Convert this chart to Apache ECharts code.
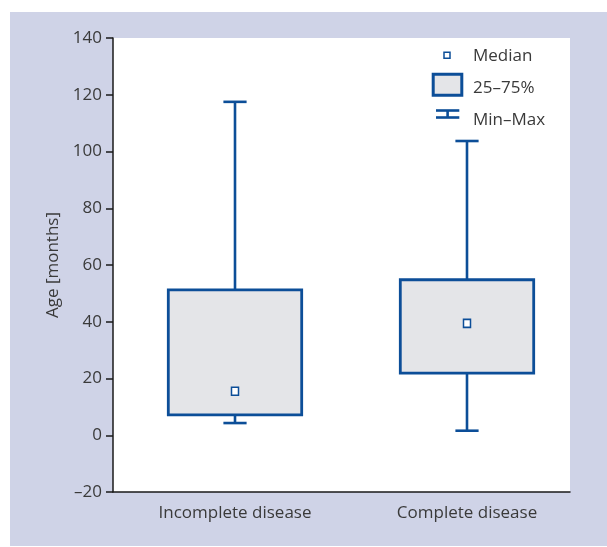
<!DOCTYPE html>
<html><head><meta charset="utf-8">
<script src="https://cdn.jsdelivr.net/npm/echarts@6/dist/echarts.min.js"></script>
<style>html,body{margin:0;padding:0;background:#fff;}#c{position:absolute;left:10px;top:12px;width:597px;height:534px;background:#cfd3e7;}</style>
</head><body><div id="c"></div>
<script>
const categories = ['Incomplete disease', 'Complete disease'];
const minValues = [4.3, 1.6];
const q1Values = [7.2, 21.9];
const medianValues = [15.5, 39.4];
const q3Values = [51.2, 54.8];
const maxValues = [117.5, 103.7];
const yMin = -20, yMax = 140, yStep = 20;
const yAxisName = 'Age [months]';
const legendLabels = ['Median', '25–75%', 'Min–Max'];

const BLUE = '#0c4e98';
const FILL = '#e4e5e8';
const TXT = '#3a3a3a';
const FONT = 'Open Sans';

const chart = echarts.init(document.getElementById('c'), null, {renderer: 'canvas'});

const gridPos = {top: 26, bottom: 54};

chart.setOption({
  animation: false,
  textStyle: {fontFamily: FONT},
  grid: [
    {left: 103, right: 37, top: gridPos.top, bottom: gridPos.bottom, show: true, backgroundColor: '#ffffff', borderWidth: 0},
    {left: 109, right: 24, top: gridPos.top, bottom: gridPos.bottom}
  ],
  xAxis: [
    {gridIndex: 0, type: 'value', min: 0, max: 1, axisLine: {show: true, onZero: false, lineStyle: {color: '#1a1a1a', width: 1.5}},
     axisTick: {show: false}, axisLabel: {show: false}, splitLine: {show: false}},
    {gridIndex: 1, type: 'category', data: categories, axisLine: {show: false}, axisTick: {show: false},
     axisLabel: {color: TXT, fontSize: 17, fontFamily: FONT, margin: 13}}
  ],
  yAxis: [
    {gridIndex: 0, type: 'value', min: yMin, max: yMax, interval: yStep,
     axisLine: {show: true, onZero: false, lineStyle: {color: '#1a1a1a', width: 1.5}},
     axisTick: {show: true, length: 7, lineStyle: {color: '#1a1a1a', width: 1.5}},
     axisLabel: {color: TXT, fontSize: 17, fontFamily: FONT, margin: 11,
       formatter: v => v < 0 ? '\u2013' + Math.abs(v) : String(v)},
     splitLine: {show: false},
     name: yAxisName, nameLocation: 'middle', nameGap: 48, nameRotate: 90,
     nameTextStyle: {color: TXT, fontSize: 17, fontFamily: FONT}},
    {gridIndex: 1, type: 'value', min: yMin, max: yMax, interval: yStep, show: false}
  ],
  series: [
    {
      type: 'custom', xAxisIndex: 1, yAxisIndex: 1, name: legendLabels[2],
      data: categories.map((c, i) => [i, minValues[i], q1Values[i], q3Values[i], maxValues[i]]),
      renderItem(params, api) {
        const i = api.value(0);
        const pMin = api.coord([i, api.value(1)]);
        const pQ1 = api.coord([i, api.value(2)]);
        const pQ3 = api.coord([i, api.value(3)]);
        const pMax = api.coord([i, api.value(4)]);
        const cw = api.size([1, 0])[0] * 0.1;
        const st = {stroke: BLUE, lineWidth: 2.6};
        return {type: 'group', children: [
          {type: 'line', shape: {x1: pMin[0], y1: pMin[1], x2: pQ1[0], y2: pQ1[1]}, style: st},
          {type: 'line', shape: {x1: pQ3[0], y1: pQ3[1], x2: pMax[0], y2: pMax[1]}, style: st},
          {type: 'line', shape: {x1: pMin[0] - cw / 2, y1: pMin[1], x2: pMin[0] + cw / 2, y2: pMin[1]}, style: st},
          {type: 'line', shape: {x1: pMax[0] - cw / 2, y1: pMax[1], x2: pMax[0] + cw / 2, y2: pMax[1]}, style: st}
        ]};
      }
    },
    {
      type: 'custom', xAxisIndex: 1, yAxisIndex: 1, name: legendLabels[1],
      data: categories.map((c, i) => [i, q1Values[i], q3Values[i]]),
      renderItem(params, api) {
        const i = api.value(0);
        const lo = api.coord([i, api.value(1)]);
        const hi = api.coord([i, api.value(2)]);
        const bw = api.size([1, 0])[0] * 0.575;
        return {type: 'rect', shape: {x: lo[0] - bw / 2, y: hi[1], width: bw, height: lo[1] - hi[1]},
                style: {fill: FILL, stroke: BLUE, lineWidth: 2.8}};
      }
    },
    {
      type: 'scatter', xAxisIndex: 1, yAxisIndex: 1, name: legendLabels[0],
      data: categories.map((c, i) => [i, medianValues[i]]),
      symbol: 'rect', symbolSize: [7, 8],
      itemStyle: {color: '#ffffff', borderColor: BLUE, borderWidth: 1.6, opacity: 1},
      z: 5
    }
  ],
  graphic: [
    {type: 'rect', shape: {x: 434, y: 40.3, width: 6, height: 6}, style: {fill: '#fff', stroke: BLUE, lineWidth: 1.5}, z: 10},
    {type: 'text', x: 463, y: 43.7, style: {text: legendLabels[0], fill: TXT, font: '17px "Open Sans"', verticalAlign: 'middle'}, z: 10},
    {type: 'rect', shape: {x: 423.2, y: 62.2, width: 28.6, height: 21}, style: {fill: FILL, stroke: BLUE, lineWidth: 3}, z: 10},
    {type: 'text', x: 463, y: 76.3, style: {text: legendLabels[1], fill: TXT, font: '17px "Open Sans"', verticalAlign: 'middle'}, z: 10},
    {type: 'group', z: 10, children: [
      {type: 'line', shape: {x1: 426, y1: 98.5, x2: 449.3, y2: 98.5}, style: {stroke: BLUE, lineWidth: 2.6}},
      {type: 'line', shape: {x1: 426, y1: 105.5, x2: 449.3, y2: 105.5}, style: {stroke: BLUE, lineWidth: 2.6}},
      {type: 'line', shape: {x1: 437.6, y1: 98.5, x2: 437.6, y2: 105.5}, style: {stroke: BLUE, lineWidth: 2.6}}
    ]},
    {type: 'text', x: 463, y: 108, style: {text: legendLabels[2], fill: TXT, font: '17px "Open Sans"', verticalAlign: 'middle'}, z: 10}
  ]
});
</script></body></html>
